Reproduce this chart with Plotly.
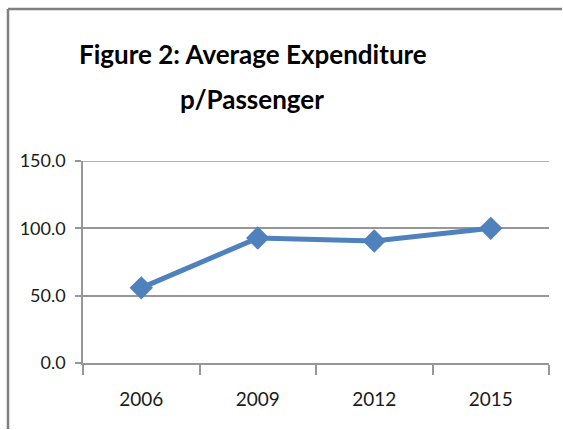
import plotly.graph_objects as go

# Average expenditure per passenger by survey year
years = ["2006", "2009", "2012", "2015"]
expenditure = [55.8, 92.8, 90.6, 100.0]
y_ticks = [0, 50, 100, 150]
y_tick_text = ["0.0", "50.0", "100.0", "150.0"]
title_lines = ["Figure 2: Average Expenditure", "p/Passenger"]

FONT = "Lato, DejaVu Sans Condensed, sans-serif"
LINE_BLUE = "#4F81BD"
GRID = "#979797"
FRAME = "#808080"

# plot area in pixels: x 83..549, y 161..363
PX_L, PX_R, PX_T, PX_B = 83, 549, 161, 363
W, H = 563, 430
pw, ph = PX_R - PX_L, PX_B - PX_T


def px_to_paper(x, y):
    return (x - PX_L) / pw, (PX_B - y) / ph


fig = go.Figure(
    go.Scatter(
        x=years,
        y=expenditure,
        mode="lines+markers",
        line=dict(color=LINE_BLUE, width=5),
        marker=dict(symbol="diamond", size=18, color=LINE_BLUE),
        cliponaxis=False,
        showlegend=False,
    )
)

annotations = []
for text, (cx, cy) in zip(title_lines, [(253, 54), (252, 99)]):
    ax, ay = px_to_paper(cx, cy)
    annotations.append(dict(
        text=f"<b>{text}</b>", xref="paper", yref="paper",
        x=ax, y=ay, xanchor="center", yanchor="middle", showarrow=False,
        font=dict(family=FONT, size=26, color="black"),
    ))

# frame corner and far edges in paper units
fx0, fy0 = px_to_paper(8, 9)
fx1, fy1 = px_to_paper(W - 1, H - 1)

fig.update_layout(
    width=W,
    height=H,
    margin=dict(l=PX_L, r=W - PX_R, t=PX_T, b=H - PX_B),
    paper_bgcolor="white",
    plot_bgcolor="white",
    font=dict(family=FONT, color="#1a1a1a", size=19),
    annotations=annotations,
    shapes=[
        # outer chart frame: left edge
        dict(type="line", xref="paper", yref="paper",
             x0=fx0, x1=fx0, y0=fy1, y1=fy0,
             line=dict(color=FRAME, width=2.5)),
        # outer chart frame: top edge
        dict(type="line", xref="paper", yref="paper",
             x0=fx0, x1=fx1, y0=fy0, y1=fy0,
             line=dict(color=FRAME, width=2.5)),
        # top gridline at 150
        dict(type="line", xref="paper", yref="y", x0=0, x1=1, y0=150, y1=150,
             line=dict(color=GRID, width=1.5), layer="below"),
    ],
)

fig.update_xaxes(
    type="category",
    range=[-0.5, 3.5],
    showline=True, linecolor=GRID, linewidth=1.5,
    ticks="outside", tickson="boundaries", ticklen=10, tickcolor=GRID, tickwidth=1.5,
    showgrid=False,
    ticklabelstandoff=18,
)
fig.update_yaxes(
    range=[0, 150],
    tickvals=y_ticks, ticktext=y_tick_text,
    showline=True, linecolor=GRID, linewidth=1.5,
    ticks="outside", ticklen=6, tickcolor=GRID, tickwidth=1.5,
    showgrid=True, gridcolor=GRID, gridwidth=1.5,
    zeroline=False,
    ticklabelstandoff=6,
    tickfont=dict(size=18),
)

# keep the page itself from showing scrollbars
fig.write_html(
    "out.html",
    config={"displayModeBar": False},
    post_script="document.documentElement.style.overflow='hidden';"
                "document.body.style.overflow='hidden';",
)
